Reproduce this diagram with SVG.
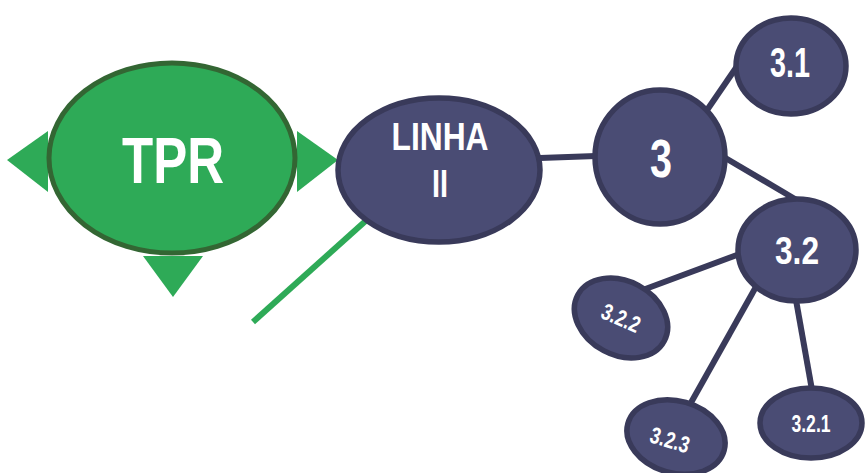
<svg xmlns="http://www.w3.org/2000/svg" width="867" height="473" viewBox="0 0 867 473">
<style>
.tri{fill:#2EAA57}
.pn{fill:#4A4C74;stroke:#393A5A;stroke-width:5.5}
.t{fill:#FFFFFF;font-family:"Liberation Sans",Arial,sans-serif;font-weight:bold;text-anchor:middle}
.c{stroke:#393A5A;stroke-width:6;fill:none}
</style>
<rect width="867" height="473" fill="#FFFFFF"/>
<g id="connectors">
<line class="c" x1="540" y1="158" x2="596" y2="156"/>
<line class="c" x1="705" y1="113" x2="740" y2="62"/>
<line class="c" x1="722" y1="156" x2="800" y2="202"/>
<line class="c" x1="640" y1="291" x2="745" y2="252"/>
<line class="c" x1="688" y1="408" x2="757" y2="285"/>
<line class="c" x1="796" y1="300" x2="812" y2="390"/>
<line x1="253" y1="322" x2="370" y2="217" stroke="#2EAA57" stroke-width="6"/>
</g>
<g id="tpr">
<polygon class="tri" points="7,160 48,131 48,192"/>
<polygon class="tri" points="297,131 338,160 297,192"/>
<polygon class="tri" points="143,256 203,256 173,297"/>
<ellipse cx="172" cy="158" rx="123" ry="95" fill="#2EAA57" stroke="#336633" stroke-width="5"/>
<text class="t" x="173" y="183" font-size="64" textLength="102" lengthAdjust="spacingAndGlyphs">TPR</text>
</g>
<g id="linha">
<ellipse class="pn" cx="439" cy="170" rx="101" ry="72"/>
<text class="t" x="440" y="150" font-size="39" textLength="97" lengthAdjust="spacingAndGlyphs">LINHA</text>
<text class="t" x="440" y="197" font-size="39" textLength="16" lengthAdjust="spacingAndGlyphs">II</text>
</g>
<g id="n3">
<ellipse class="pn" cx="660" cy="157" rx="65" ry="67"/>
<text class="t" x="661" y="177" font-size="53" textLength="22" lengthAdjust="spacingAndGlyphs">3</text>
</g>
<g id="n31">
<ellipse class="pn" cx="791" cy="66" rx="55" ry="48"/>
<text class="t" x="790" y="77" font-size="42" textLength="40" lengthAdjust="spacingAndGlyphs">3.1</text>
</g>
<g id="n32">
<ellipse class="pn" cx="797" cy="250" rx="59" ry="51"/>
<text class="t" x="797" y="264" font-size="38" textLength="44" lengthAdjust="spacingAndGlyphs">3.2</text>
</g>
<g id="n322">
<ellipse class="pn" cx="621" cy="318" rx="49" ry="37" transform="rotate(28 621 318)"/>
<text class="t" x="621" y="326" font-size="23" textLength="40" lengthAdjust="spacingAndGlyphs" transform="rotate(24 621 318)">3.2.2</text>
</g>
<g id="n323">
<ellipse class="pn" cx="676" cy="437" rx="50" ry="36" transform="rotate(16 676 437)"/>
<text class="t" x="670" y="448" font-size="23" textLength="40" lengthAdjust="spacingAndGlyphs" transform="rotate(17 670 440)">3.2.3</text>
</g>
<g id="n321">
<ellipse class="pn" cx="811" cy="423" rx="51" ry="35"/>
<text class="t" x="811" y="432" font-size="23" textLength="39" lengthAdjust="spacingAndGlyphs">3.2.1</text>
</g>
</svg>
